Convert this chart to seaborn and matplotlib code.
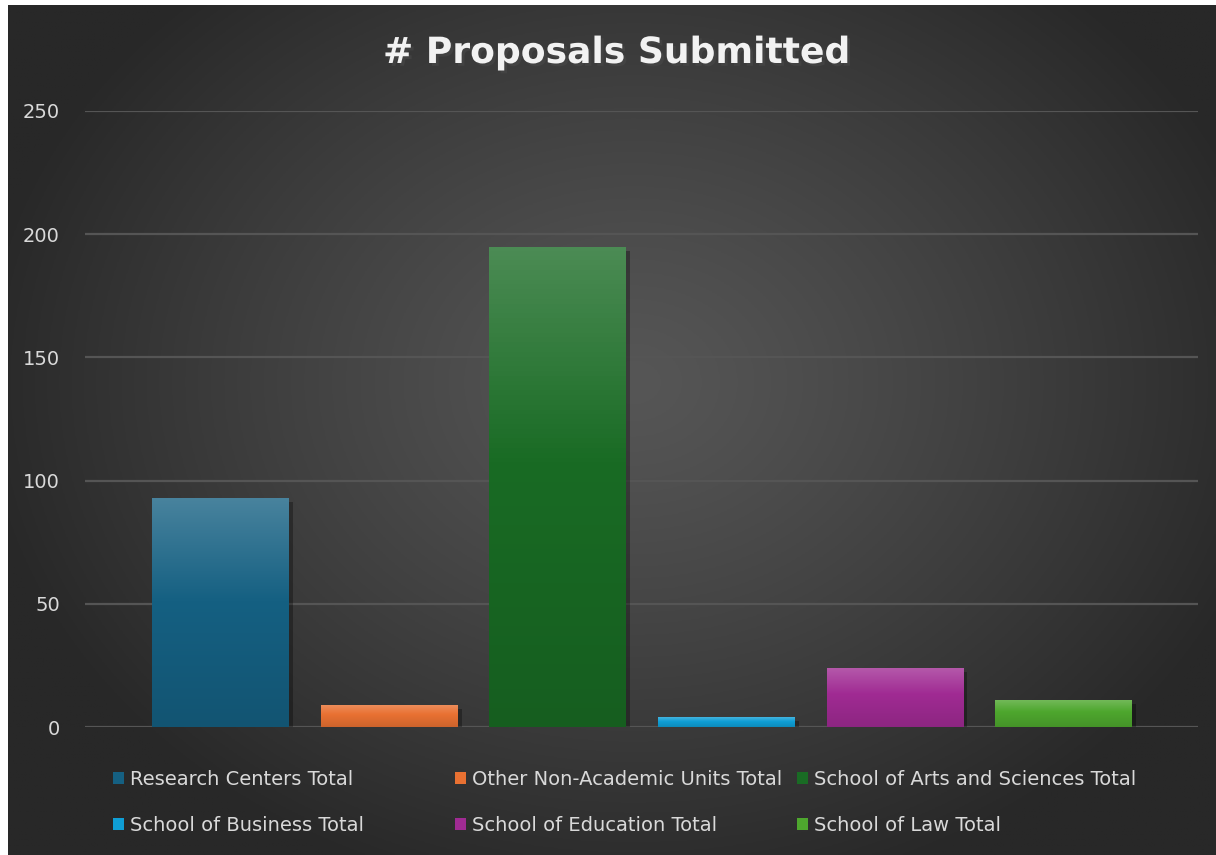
import numpy as np
import matplotlib
matplotlib.use('Agg')
import matplotlib.pyplot as plt
import matplotlib.patheffects as pe
from matplotlib.patches import Patch
from matplotlib.colors import to_rgb
import seaborn as sns

units = ['Research Centers Total', 'Other Non-Academic Units Total', 'School of Arts and Sciences Total',
         'School of Business Total', 'School of Education Total', 'School of Law Total']
proposals = [93, 9, 195, 4, 24, 11]
colors = ['#156082', '#E97132', '#196B24', '#0F9ED5', '#A02B93', '#4EA72E']
yticks = [0, 50, 100, 150, 200, 250]

sns.set_theme(style='dark')
plt.rcParams['font.family'] = ['DejaVu Sans']

W, H = 1216, 855
fig = plt.figure(figsize=(W/100, H/100), dpi=100, facecolor='white')

# radial background
bg = fig.add_axes([8/W, 0, 1-8/W, 1-5/H])
gx, gy = np.meshgrid(np.linspace(0, W, 400), np.linspace(0, H, 300))
r = np.sqrt(((gx-630)/700)**2 + ((gy-380)/560)**2)
shade = 86 - 46*np.clip(r/0.95, 0, 1)**1.2
bg.imshow(np.dstack([shade]*3)/255, extent=[0, W, H, 0], aspect='auto')
bg.set_axis_off()

ax = fig.add_axes([85/W, 128/H, 1113/W, 616/H])
ax.patch.set_alpha(0)
df = {'unit': units, 'n': proposals}
sns.barplot(x='unit', y='n', hue='unit', data=df, palette=colors, order=units,
            hue_order=units, width=0.81, legend=False, ax=ax, saturation=1,
            linewidth=0, zorder=3)

ax.set_xlim(-0.804, 5.798)
ax.set_ylim(0, 250)
ax.set_yticks(yticks)
ax.set_xticks([])
ax.set_xlabel('')
ax.set_ylabel('')
ax.tick_params(axis='y', length=0, pad=18, labelsize=14, labelcolor='#d9d9d9')
for s in ax.spines.values():
    s.set_visible(False)
ax.grid(axis='y', color='#555555', linewidth=1.6, zorder=0)
ax.grid(axis='x', visible=False)

# gradient fill per bar
for p, c in zip(ax.patches, colors):
    base = np.array(to_rgb(c))
    top = base + (1-base)*0.22
    bot = base*0.88
    t = np.linspace(0, 1, 100)[:, None]
    grad = np.where(t < 0.45, top + (base-top)*(t/0.45), base + (bot-base)*((t-0.45)/0.55))
    x0, y0 = p.get_x(), p.get_y()
    w, h = p.get_width(), p.get_height()
    p.set_edgecolor('none')
    p.set_path_effects([pe.SimplePatchShadow(offset=(3, -3), shadow_rgbFace='black', alpha=0.3), pe.Normal()])
    im = ax.imshow(grad[:, None, :], extent=[x0, x0+w, y0, y0+h], origin='upper',
                   aspect='auto', zorder=4)
    im.set_clip_path(p)
ax.set_xlim(-0.804, 5.798)
ax.set_ylim(0, 250)

fig.text(617/W, 1-53/H, '# Proposals Submitted', ha='center', va='center', color='#f2f2f2',
         fontsize=26, fontweight='bold',
         path_effects=[pe.withSimplePatchShadow(offset=(2, -2), alpha=0.6)])

# legend, three columns, filled row-wise
handles = [Patch(facecolor=c, edgecolor='none') for c in colors]
col_x = [105, 447, 789]
for j in range(3):
    leg = fig.legend([handles[j], handles[j+3]], [units[j], units[j+3]],
                     loc='upper left', bbox_to_anchor=(col_x[j]/W, 1-762/H),
                     frameon=False, fontsize=14, labelcolor='#d9d9d9',
                     handlelength=0.6, handleheight=0.6, handletextpad=0.3,
                     labelspacing=1.38, borderaxespad=0)

fig.savefig('out.png', dpi=100, facecolor=fig.get_facecolor())
